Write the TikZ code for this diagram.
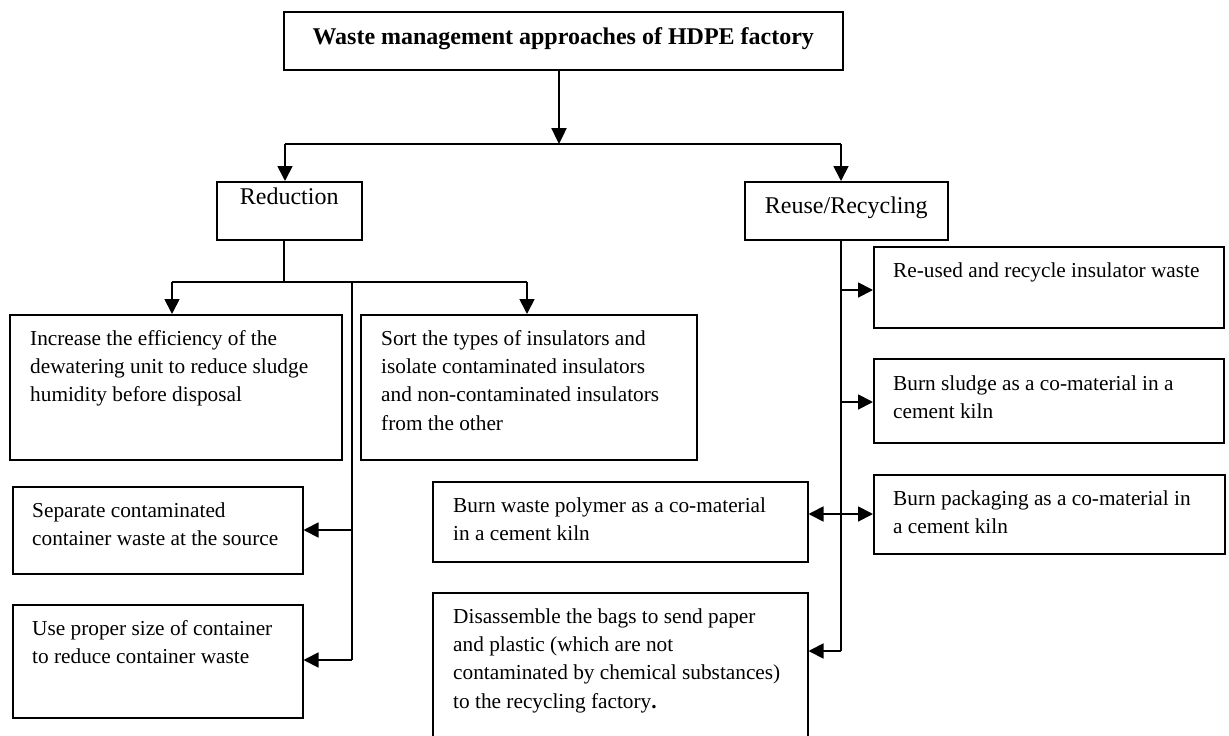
\documentclass[tikz,border=0pt]{standalone}
\usepackage{fontspec}
\setmainfont{Liberation Serif}
\usetikzlibrary{arrows.meta,calc}

\tikzset{
  box/.style={draw, line width=1.5pt, inner sep=0pt, anchor=north west},
  txt/.style={inner sep=0pt, anchor=north west, align=left,
    font=\fontsize{21.3pt}{28.4pt}\selectfont},
  head/.style={inner sep=0pt, anchor=base, font=\fontsize{24pt}{28pt}\selectfont},
  link/.style={line width=1.8pt},
  arr/.style={line width=1.8pt, -{Triangle[length=15pt,width=15pt]}},
  mainarr/.style={line width=2.4pt, -{Triangle[length=16pt,width=15pt]}},
}

\begin{document}
\begin{tikzpicture}[x=1pt, y=-1pt]
\useasboundingbox (0,0) rectangle (1229,736);
\clip (0,0) rectangle (1229,736);

% boxes
\node[box, minimum width=559pt, minimum height=58pt] (title) at (283,11) {};
\node[box, minimum width=145pt, minimum height=58pt] (red) at (216,181) {};
\node[box, minimum width=203pt, minimum height=58pt] (reuse) at (744,181) {};
\node[box, minimum width=332pt, minimum height=145pt] (inc) at (9,314) {};
\node[box, minimum width=336pt, minimum height=145pt] (sort) at (360,314) {};
\node[box, minimum width=290pt, minimum height=87pt] (sep) at (12,486) {};
\node[box, minimum width=290pt, minimum height=113pt] (use) at (12,604) {};
\node[box, minimum width=375pt, minimum height=80pt] (poly) at (432,481) {};
\node[box, minimum width=375pt, minimum height=180pt] (dis) at (432,592) {};
\node[box, minimum width=350pt, minimum height=81pt] (reu) at (873,246) {};
\node[box, minimum width=350pt, minimum height=84pt] (slu) at (873,358) {};
\node[box, minimum width=351pt, minimum height=79pt] (pack) at (873,474) {};

% headings
\node[head, font=\fontsize{24pt}{28pt}\selectfont\bfseries] (titleT) at ($(title.north)+(0,33)$) {Waste management approaches of HDPE factory};
\node[head] (redT) at ($(red.north)+(0,23)$) {Reduction};
\node[head] (reuseT) at ($(reuse.north)+(0,32)$) {Reuse/Recycling};

% box texts
\node[txt] (incT) at ($(inc.north west)+(21,11)$) {\strut Increase the efficiency of the\\dewatering unit to reduce sludge\\humidity before disposal};
\node[txt] (sortT) at ($(sort.north west)+(21,11)$) {\strut Sort the types of insulators and\\isolate contaminated insulators\\and non-contaminated insulators\\from the other};
\node[txt] (sepT) at ($(sep.north west)+(20,11)$) {\strut Separate contaminated\\container waste at the source};
\node[txt] (useT) at ($(use.north west)+(20,11)$) {\strut Use proper size of container\\to reduce container waste};
\node[txt] (polyT) at ($(poly.north west)+(21,11)$) {\strut Burn waste polymer as a co-material\\in a cement kiln};
\node[txt] (disT) at ($(dis.north west)+(21,11)$) {\strut Disassemble the bags to send paper\\and plastic (which are not\\contaminated by chemical substances)\\to the recycling factory\textbf{.}};
\node[txt] (reuT) at ($(reu.north west)+(20,11)$) {\strut Re-used and recycle insulator waste};
\node[txt] (sluT) at ($(slu.north west)+(20,12)$) {\strut Burn sludge as a co-material in a\\cement kiln};
\node[txt] (packT) at ($(pack.north west)+(20,11)$) {\strut Burn packaging as a co-material in\\a cement kiln};

% junction points
\coordinate (j0) at (559,144);
\coordinate (jl) at (285,144);
\coordinate (jr) at (841,144);
\coordinate (r1) at (284,282);
\coordinate (r2) at (172,282);
\coordinate (r3) at (527,282);
\coordinate (r4) at (352,282);
\coordinate (r5) at (352,660);
\coordinate (r6) at (352,530);
\coordinate (u1) at (841,651);
\coordinate (u2) at (841,290);
\coordinate (u3) at (841,402);
\coordinate (u4) at (841,514);

% top level
\draw[mainarr] (title.south -| j0) -- (j0);
\draw[link] (jl) -- (jr);
\draw[arr] (jl) -- (jl |- red.north);
\draw[arr] (jr) -- (jr |- reuse.north);

% reduction branch
\draw[link] (r1 |- red.south) -- (r1);
\draw[link] (r2) -- (r3);
\draw[arr] (r2) -- (r2 |- inc.north);
\draw[arr] (r3) -- (r3 |- sort.north);
\draw[link] (r4) -- (r5);
\draw[arr] (r6) -- (r6 -| sep.east);
\draw[arr] (r5) -- (r5 -| use.east);

% reuse/recycling branch
\draw[link] (u1 |- reuse.south) -- (u1);
\draw[arr] (u2) -- (u2 -| reu.west);
\draw[arr] (u3) -- (u3 -| slu.west);
\draw[arr] (u4) -- (u4 -| pack.west);
\draw[arr] (u4) -- (u4 -| poly.east);
\draw[arr] (u1) -- (u1 -| dis.east);
\end{tikzpicture}
\end{document}
